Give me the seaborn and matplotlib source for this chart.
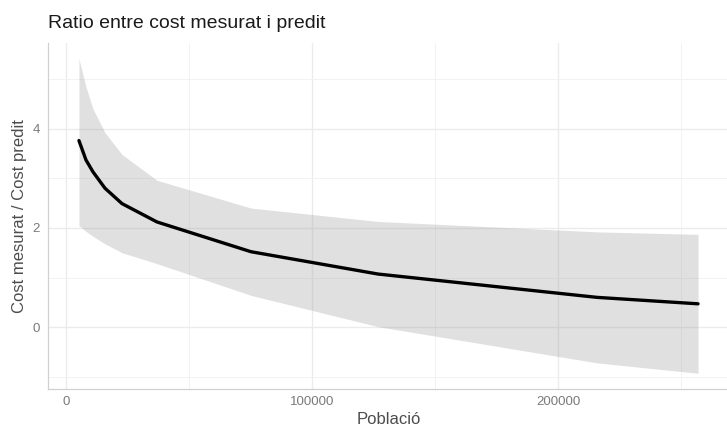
import numpy as np
import pandas as pd
import matplotlib
matplotlib.use("Agg")
import matplotlib.pyplot as plt
import matplotlib.ticker as mticker
import seaborn as sns

# ---- data ----
poblacio = [5080, 7930, 10780, 15660, 22570, 36800, 75030, 126680, 215700, 256800]
ratio = [3.76, 3.37, 3.13, 2.80, 2.49, 2.12, 1.52, 1.07, 0.60, 0.47]
upper = [5.41, 4.84, 4.40, 3.92, 3.48, 2.96, 2.40, 2.13, 1.92, 1.87]
lower = [2.05, 1.93, 1.83, 1.68, 1.50, 1.28, 0.64, 0.01, -0.72, -0.93]

x_major = [0, 100000, 200000]
x_minor = [50000, 150000, 250000]
y_major = [0, 2, 4]
y_minor = [-1, 1, 3, 5]

title = "Ratio entre cost mesurat i predit"
xlab = "Població"
ylab = "Cost mesurat / Cost predit"

df = pd.DataFrame({"Població": poblacio, "ratio": ratio, "lo": lower, "hi": upper})

sns.set_theme(style="white")
plt.rcParams["font.family"] = ["Liberation Sans", "DejaVu Sans"]

W, H = 727, 428
fig = plt.figure(figsize=(W / 100, H / 100), dpi=100)
left, right, top, bottom = 48, 729, 43, 389
ax = fig.add_axes([left / W, (H - bottom) / H, (right - left) / W, (bottom - top) / H])

ax.fill_between(df["Població"], df["lo"], df["hi"], color="#999999", alpha=0.3,
                linewidth=0, zorder=2)
sns.lineplot(data=df, x="Població", y="ratio", color="black", linewidth=2.4,
             ax=ax, zorder=3, estimator=None, sort=False)
ax.margins(x=0.05, y=0.05)

ax.set_xticks(x_major)
ax.set_xticks(x_minor, minor=True)
ax.set_yticks(y_major)
ax.set_yticks(y_minor, minor=True)
ax.xaxis.set_major_formatter(mticker.FuncFormatter(lambda v, p: f"{int(round(v))}"))
ax.yaxis.set_major_formatter(mticker.FuncFormatter(lambda v, p: f"{int(round(v))}"))

ax.grid(which="major", color="#ebebeb", linewidth=1.0, zorder=0)
ax.grid(which="minor", color="#f2f2f2", linewidth=0.7, zorder=0)
ax.set_axisbelow(True)

for s in ["top", "right"]:
    ax.spines[s].set_visible(False)
for s in ["left", "bottom"]:
    ax.spines[s].set_color("#d0d0d0")
    ax.spines[s].set_linewidth(0.9)

ax.tick_params(which="both", length=0)
ax.tick_params(axis="x", labelsize=9.5, labelcolor="#7a7a7a", pad=5)
ax.tick_params(axis="y", labelsize=9.5, labelcolor="#7a7a7a", pad=6)

ax.set_xlabel(xlab, fontsize=12, color="#4d4d4d", labelpad=3)
ax.set_ylabel(ylab, fontsize=12, color="#4d4d4d", labelpad=4)
ax.set_title(title, loc="left", fontsize=14, color="#1a1a1a", pad=11)

fig.savefig("out.png", dpi=100, facecolor="white")
